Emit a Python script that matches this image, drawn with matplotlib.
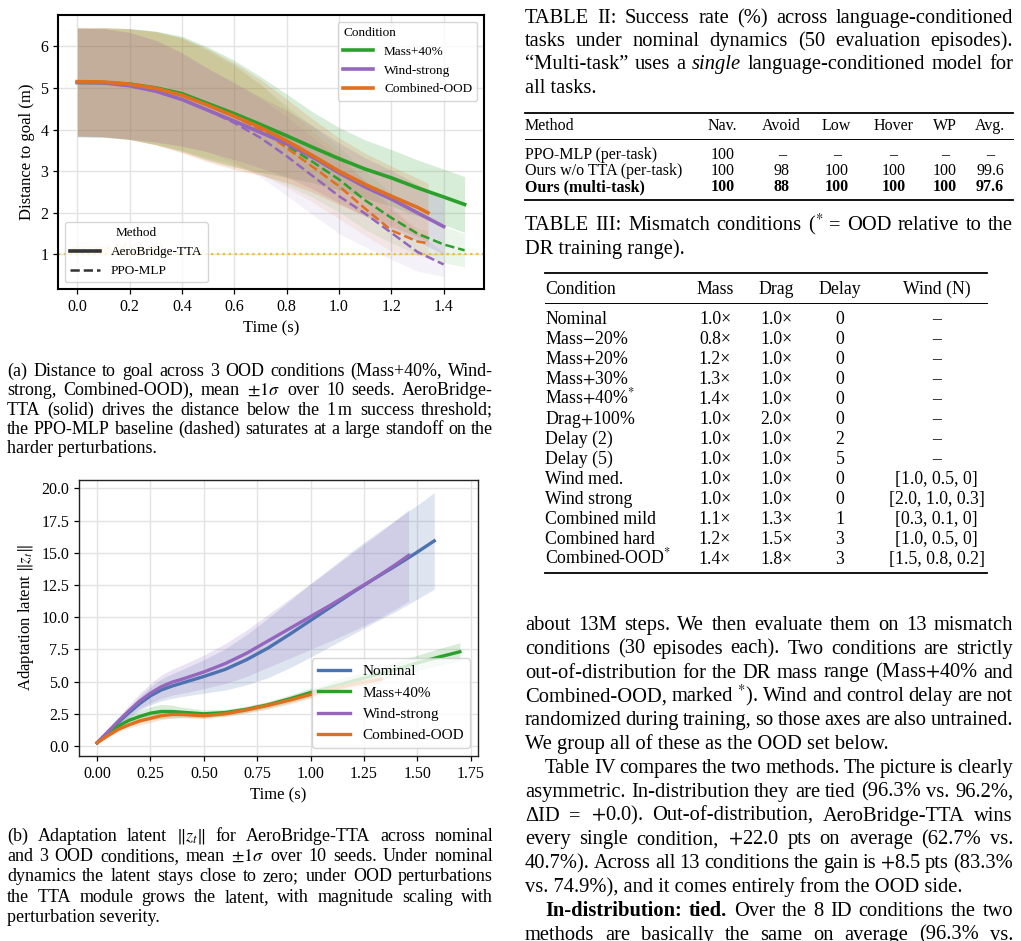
import matplotlib
matplotlib.use('Agg')
import matplotlib.pyplot as plt
import matplotlib.transforms as mtransforms
from matplotlib.lines import Line2D
from matplotlib.ticker import MultipleLocator, FormatStrFormatter
import numpy as np

plt.rcParams['font.family'] = ['Liberation Serif', 'DejaVu Serif']
plt.rcParams['mathtext.fontset'] = 'stix'

# ---------------- (a) distance to goal ----------------
cond_names = ['Mass+40%', 'Wind-strong', 'Combined-OOD']
cond_colors = ['#2ca02c', '#9467bd', '#e0701f']

t_mass = [0.0, 0.1, 0.2, 0.3, 0.4, 0.5, 0.6, 0.7, 0.8, 0.9, 1.0, 1.1, 1.2, 1.3, 1.4, 1.48]
tta_mass = [5.13, 5.125, 5.09, 5.00, 4.86, 4.62, 4.38, 4.12, 3.85, 3.57, 3.30, 3.05, 2.84, 2.60, 2.38, 2.20]
tta_mass_sd = [1.30, 1.31, 1.33, 1.36, 1.38, 1.36, 1.28, 1.15, 1.00, 0.85, 0.75, 0.70, 0.68, 0.67, 0.67, 0.67]
ppo_mass = [5.13, 5.125, 5.09, 5.00, 4.86, 4.62, 4.36, 4.00, 3.62, 3.22, 2.80, 2.30, 1.88, 1.50, 1.24, 1.10]
ppo_mass_sd = [1.30, 1.31, 1.33, 1.36, 1.36, 1.30, 1.20, 1.08, 0.95, 0.85, 0.78, 0.70, 0.60, 0.50, 0.44, 0.40]

t_wind = [0.0, 0.1, 0.2, 0.3, 0.4, 0.5, 0.6, 0.7, 0.8, 0.9, 1.0, 1.1, 1.2, 1.3, 1.4]
tta_wind = [5.13, 5.12, 5.05, 4.92, 4.72, 4.46, 4.20, 3.93, 3.66, 3.33, 2.96, 2.62, 2.33, 2.00, 1.67]
tta_wind_sd = [1.30, 1.30, 1.28, 1.22, 1.12, 1.00, 0.92, 0.85, 0.80, 0.76, 0.72, 0.70, 0.69, 0.68, 0.67]
ppo_wind = [5.13, 5.12, 5.05, 4.92, 4.72, 4.46, 4.16, 3.80, 3.36, 2.88, 2.40, 1.98, 1.52, 1.06, 0.76]
ppo_wind_sd = [1.30, 1.30, 1.28, 1.22, 1.12, 1.00, 0.96, 0.94, 0.95, 0.93, 0.90, 0.80, 0.64, 0.46, 0.29]

t_comb = [0.0, 0.1, 0.2, 0.3, 0.4, 0.5, 0.6, 0.7, 0.8, 0.9, 1.0, 1.1, 1.2, 1.3, 1.34]
tta_comb = [5.15, 5.14, 5.09, 4.99, 4.82, 4.58, 4.32, 4.05, 3.73, 3.37, 3.00, 2.68, 2.40, 2.13, 2.00]
tta_comb_sd = [1.30, 1.31, 1.33, 1.36, 1.38, 1.36, 1.28, 1.15, 1.00, 0.88, 0.80, 0.75, 0.72, 0.70, 0.70]
ppo_comb = [5.15, 5.14, 5.09, 4.99, 4.82, 4.58, 4.31, 4.00, 3.56, 3.10, 2.64, 2.10, 1.58, 1.31, 1.27]
ppo_comb_sd = [1.30, 1.31, 1.33, 1.36, 1.36, 1.30, 1.20, 1.08, 0.95, 0.85, 0.78, 0.65, 0.50, 0.32, 0.28]

success_threshold = 1.0

# ---------------- (b) adaptation latent ----------------
latent_names = ['Nominal', 'Mass+40%', 'Wind-strong', 'Combined-OOD']
latent_colors = ['#4c72b0', '#2ca02c', '#9467bd', '#e0701f']

t_nom = [0.0, 0.05, 0.1, 0.15, 0.2, 0.25, 0.3, 0.35, 0.4, 0.5, 0.6, 0.7, 0.8, 0.9, 1.0, 1.1, 1.2, 1.3, 1.4, 1.5, 1.58]
z_nom = [0.25, 1.05, 1.85, 2.6, 3.3, 3.9, 4.35, 4.65, 4.9, 5.4, 5.95, 6.7, 7.6, 8.65, 9.75, 10.85, 11.95, 13.0, 14.0, 15.05, 15.93]
z_nom_sd = [0.05, 0.15, 0.25, 0.4, 0.55, 0.7, 0.85, 0.95, 1.05, 1.3, 1.6, 1.95, 2.3, 2.6, 2.85, 3.05, 3.25, 3.4, 3.55, 3.65, 3.75]

t_massb = [0.0, 0.05, 0.1, 0.15, 0.2, 0.25, 0.3, 0.35, 0.4, 0.5, 0.6, 0.7, 0.8, 0.9, 1.0, 1.1, 1.2, 1.3, 1.4, 1.5, 1.6, 1.7]
z_mass = [0.25, 0.95, 1.55, 2.0, 2.3, 2.55, 2.68, 2.68, 2.62, 2.5, 2.6, 2.85, 3.2, 3.65, 4.15, 4.6, 5.05, 5.5, 5.95, 6.45, 6.9, 7.32]
z_mass_sd = [0.05, 0.15, 0.25, 0.35, 0.45, 0.5, 0.55, 0.5, 0.4, 0.3, 0.25, 0.25, 0.25, 0.3, 0.35, 0.4, 0.45, 0.5, 0.55, 0.6, 0.65, 0.7]

t_windb = [0.0, 0.05, 0.1, 0.15, 0.2, 0.25, 0.3, 0.35, 0.4, 0.5, 0.6, 0.7, 0.8, 0.9, 1.0, 1.1, 1.2, 1.3, 1.4, 1.46]
z_wind = [0.25, 1.1, 1.95, 2.75, 3.5, 4.1, 4.6, 4.95, 5.2, 5.75, 6.4, 7.2, 8.15, 9.1, 10.05, 11.0, 12.0, 13.0, 14.1, 14.8]
z_wind_sd = [0.05, 0.15, 0.3, 0.45, 0.6, 0.75, 0.9, 1.0, 1.1, 1.3, 1.55, 1.8, 2.05, 2.3, 2.55, 2.8, 3.05, 3.25, 3.45, 3.55]

t_combb = [0.0, 0.05, 0.1, 0.15, 0.2, 0.25, 0.3, 0.35, 0.4, 0.5, 0.6, 0.7, 0.8, 0.9, 1.0, 1.1, 1.2, 1.3, 1.33]
z_comb = [0.25, 0.8, 1.3, 1.65, 1.95, 2.15, 2.35, 2.45, 2.45, 2.35, 2.5, 2.8, 3.15, 3.55, 4.0, 4.4, 4.8, 5.1, 5.2]
z_comb_sd = [0.05, 0.12, 0.2, 0.25, 0.3, 0.32, 0.3, 0.28, 0.25, 0.22, 0.22, 0.25, 0.28, 0.3, 0.3, 0.3, 0.3, 0.3, 0.3]

# ---------------- tables ----------------
t2_header = ['Method', 'Nav.', 'Avoid', 'Low', 'Hover', 'WP', 'Avg.']
t2_methods = ['PPO-MLP (per-task)', 'Ours w/o TTA (per-task)', 'Ours (multi-task)']
t2_values = [['100', '–', '–', '–', '–', '–'],
             ['100', '98', '100', '100', '100', '99.6'],
             ['100', '88', '100', '100', '100', '97.6']]

t3_header = ['Condition', 'Mass', 'Drag', 'Delay', 'Wind (N)']
t3_conditions = ['Nominal', 'Mass$-$20%', 'Mass$+$20%', 'Mass$+$30%', 'Mass$+$40%$^{*}$',
                 'Drag$+$100%', 'Delay (2)', 'Delay (5)', 'Wind med.', 'Wind strong',
                 'Combined mild', 'Combined hard', 'Combined-OOD$^{*}$']
t3_mass = [1.0, 0.8, 1.2, 1.3, 1.4, 1.0, 1.0, 1.0, 1.0, 1.0, 1.1, 1.2, 1.4]
t3_drag = [1.0, 1.0, 1.0, 1.0, 1.0, 2.0, 1.0, 1.0, 1.0, 1.0, 1.3, 1.5, 1.8]
t3_delay = [0, 0, 0, 0, 0, 0, 2, 5, 0, 0, 1, 3, 3]
t3_wind = ['–', '–', '–', '–', '–', '–', '–', '–', '[1.0, 0.5, 0]', '[2.0, 1.0, 0.3]',
           '[0.3, 0.1, 0]', '[1.0, 0.5, 0]', '[1.5, 0.8, 0.2]']

cap_a = ['(a) Distance to goal across 3 OOD conditions (Mass+40%, Wind-',
         'strong, Combined-OOD), mean $\\pm1\\sigma$ over 10 seeds. AeroBridge-',
         'TTA (solid) drives the distance below the 1$\\,$m success threshold;',
         'the PPO-MLP baseline (dashed) saturates at a large standoff on the',
         'harder perturbations.']
cap_b = ['(b) Adaptation latent $\\|z_t\\|$ for AeroBridge-TTA across nominal',
         'and 3 OOD conditions, mean $\\pm1\\sigma$ over 10 seeds. Under nominal',
         'dynamics the latent stays close to zero; under OOD perturbations',
         'the TTA module grows the latent, with magnitude scaling with',
         'perturbation severity.']
cap_t2 = ['TABLE II: Success rate (%) across language-conditioned',
          'tasks under nominal dynamics (50 evaluation episodes).',
          '“Multi-task” uses a __single__ language-conditioned model for',
          'all tasks.']
cap_t3 = ['TABLE III: Mismatch conditions ($^{*}$ = OOD relative to the',
          'DR training range).']
body = ['about 13M steps. We then evaluate them on 13 mismatch',
        'conditions (30 episodes each). Two conditions are strictly',
        'out-of-distribution for the DR mass range (Mass$+$40% and',
        'Combined-OOD, marked $^{*}$). Wind and control delay are not',
        'randomized during training, so those axes are also untrained.',
        'We group all of these as the OOD set below.',
        'Table IV compares the two methods. The picture is clearly',
        'asymmetric. In-distribution they are tied (96.3% vs. 96.2%,',
        'ΔID = $+$0.0). Out-of-distribution, AeroBridge-TTA wins',
        'every single condition, $+$22.0 pts on average (62.7% vs.',
        '40.7%). Across all 13 conditions the gain is $+$8.5 pts (83.3%',
        'vs. 74.9%), and it comes entirely from the OOD side.',
        '**In-distribution:** **tied.** Over the 8 ID conditions the two',
        'methods are basically the same on average (96.3% vs.']
body_last = [5, 11]
body_indent = [6, 12]

# ---------------- figure ----------------
fig = plt.figure(figsize=(10.21, 9.41), dpi=100)
page = fig.add_axes([0, 0, 1, 1])
page.set_xlim(0, 1021)
page.set_ylim(941, 0)
page.axis('off')
renderer = fig.canvas.get_renderer()

BODY = 14.8


def put_line(y, line, x0, x1, size, last=False):
    if last:
        page.text(x0, y, line, fontsize=size, va='baseline', ha='left')
        return
    texts = []
    for tok in line.split(' '):
        weight, style = 'normal', 'normal'
        if tok.startswith('**') and tok.endswith('**'):
            tok, weight = tok[2:-2], 'bold'
        elif tok.startswith('__') and tok.endswith('__'):
            tok, style = tok[2:-2], 'italic'
        texts.append(page.text(x0, y, tok, fontsize=size, fontweight=weight,
                               fontstyle=style, va='baseline', ha='left'))
    widths = [t.get_window_extent(renderer=renderer).width for t in texts]
    gap = (x1 - x0 - sum(widths)) / max(len(texts) - 1, 1)
    x = x0
    for t, w in zip(texts, widths):
        t.set_x(x)
        x += w + gap


def style_axes(ax, spine_lw, spine_color):
    ax.grid(True, color='#e3e3e3', lw=1.0)
    ax.set_axisbelow(True)
    for s in ax.spines.values():
        s.set_linewidth(spine_lw)
        s.set_color(spine_color)
    ax.tick_params(labelsize=11.5, length=3.5, width=0.9)


# ----- plot (a)
ax1 = fig.add_axes([58 / 1021, 1 - 289 / 941, 426 / 1021, 274 / 941])
runs_a = [(t_mass, tta_mass, tta_mass_sd, ppo_mass, ppo_mass_sd),
          (t_wind, tta_wind, tta_wind_sd, ppo_wind, ppo_wind_sd),
          (t_comb, tta_comb, tta_comb_sd, ppo_comb, ppo_comb_sd)]
for (t, m, s, pm, ps), c in zip(runs_a, cond_colors):
    ax1.fill_between(t, np.array(m) - s, np.array(m) + s, color=c, alpha=0.18, lw=0)
    ax1.fill_between(t, np.array(pm) - ps, np.array(pm) + ps, color=c, alpha=0.09, lw=0)
for (t, m, s, pm, ps), c in zip(runs_a, cond_colors):
    ax1.plot(t, pm, color=c, lw=1.8, ls='--', zorder=3)
cond_handles = []
for (t, m, s, pm, ps), c, name in zip(runs_a, cond_colors, cond_names):
    h, = ax1.plot(t, m, color=c, lw=2.6, zorder=4, label=name)
    cond_handles.append(h)
ax1.axhline(success_threshold, color='#f2c21b', ls=':', lw=1.6, zorder=2)
ax1.text(0.03, success_threshold + 0.05, 'success ($d \\leq 1$ m)', color='#e5b820',
         fontsize=9.5, alpha=0.7,
         transform=mtransforms.blended_transform_factory(ax1.transAxes, ax1.transData))
style_axes(ax1, 1.5, 'black')
ax1.xaxis.set_major_locator(MultipleLocator(0.2))
ax1.xaxis.set_major_formatter(FormatStrFormatter('%.1f'))
ax1.yaxis.set_major_locator(MultipleLocator(1))
ax1.set_xlabel('Time (s)', fontsize=12)
ax1.set_ylabel('Distance to goal (m)', fontsize=12)
leg1 = ax1.legend(handles=cond_handles, title='Condition', loc='upper right',
                  fontsize=9.5, title_fontsize=9.5, alignment='left', handlelength=2.3)
ax1.add_artist(leg1)
meth_handles = [Line2D([], [], color='#333333', lw=2.6),
                Line2D([], [], color='#333333', lw=1.8, ls='--')]
ax1.legend(handles=meth_handles, labels=['AeroBridge-TTA', 'PPO-MLP'], title='Method',
           loc='lower left', fontsize=9.5, title_fontsize=9.5, handlelength=2.3)

# ----- plot (b)
ax2 = fig.add_axes([79 / 1021, 1 - 756 / 941, 399 / 1021, 276 / 941])
runs_b = [(t_nom, z_nom, z_nom_sd), (t_massb, z_mass, z_mass_sd),
          (t_windb, z_wind, z_wind_sd), (t_combb, z_comb, z_comb_sd)]
for (t, m, s), c in zip(runs_b, latent_colors):
    ax2.fill_between(t, np.array(m) - s, np.array(m) + s, color=c, alpha=0.18, lw=0)
for (t, m, s), c, name in zip(runs_b, latent_colors, latent_names):
    ax2.plot(t, m, color=c, lw=2.4, label=name)
style_axes(ax2, 1.0, '#222222')
ax2.xaxis.set_major_locator(MultipleLocator(0.25))
ax2.xaxis.set_major_formatter(FormatStrFormatter('%.2f'))
ax2.yaxis.set_major_locator(MultipleLocator(2.5))
ax2.yaxis.set_major_formatter(FormatStrFormatter('%.1f'))
ax2.set_xlabel('Time (s)', fontsize=12)
ax2.set_ylabel('Adaptation latent $\\|z_t\\|$', fontsize=12)
ax2.legend(loc='lower right', fontsize=11, handlelength=2.1)

# ----- captions (a), (b)
for i, line in enumerate(cap_a):
    put_line(370 + 19.3 * i + 6, line, 7, 493, 13, last=(i == len(cap_a) - 1))
for i, line in enumerate(cap_b):
    put_line(835 + 20.2 * i + 6, line, 7, 493, 13, last=(i == len(cap_b) - 1))

# ----- table II
for i, line in enumerate(cap_t2):
    put_line(16.5 + 23.2 * i + 6.5, line, 525, 1013, BODY, last=(i == len(cap_t2) - 1))
t2_cols = [525, 722.7, 781.7, 836.7, 893.3, 945, 990]
page.plot([525, 1013], [113, 113], color='black', lw=1.3)
page.plot([525, 1013], [139.3, 139.3], color='black', lw=0.7)
page.plot([525, 1013], [199.5, 199.5], color='black', lw=1.3)
for j, h in enumerate(t2_header):
    page.text(t2_cols[j], 125 + 5.3, h, fontsize=11.5, va='baseline',
              ha='left' if j == 0 else 'center')
for i, (meth, vals) in enumerate(zip(t2_methods, t2_values)):
    y = 154 + 16 * i + 5.3
    w = 'bold' if i == 2 else 'normal'
    page.text(t2_cols[0], y, meth, fontsize=11.5, va='baseline', ha='left', fontweight=w)
    for j, v in enumerate(vals):
        page.text(t2_cols[j + 1], y, v, fontsize=11.5, va='baseline', ha='center', fontweight=w)

# ----- table III
for i, line in enumerate(cap_t3):
    put_line(223.3 + 24 * i + 6.5, line, 525, 1013, BODY, last=(i == len(cap_t3) - 1))
t3_cols = [545, 715, 776.7, 840, 936.7]
page.plot([545, 987], [272.7, 272.7], color='black', lw=1.3)
page.plot([545, 987], [303.3, 303.3], color='black', lw=0.7)
page.plot([545, 987], [572.7, 572.7], color='black', lw=1.3)
for j, h in enumerate(t3_header):
    page.text(t3_cols[j], 287.7 + 6, h, fontsize=12.8, va='baseline',
              ha='left' if j == 0 else 'center')
for i in range(len(t3_conditions)):
    y = 318.3 + 19.95 * i + 6
    row = [t3_conditions[i], '%.1f×' % t3_mass[i], '%.1f×' % t3_drag[i],
           str(t3_delay[i]), t3_wind[i]]
    for j, v in enumerate(row):
        page.text(t3_cols[j], y, v, fontsize=12.8, va='baseline',
                  ha='left' if j == 0 else 'center')

# ----- body text
for i, line in enumerate(body):
    x0 = 545 if i in body_indent else 525
    put_line(623.3 + 23.85 * i + 6.5, line, x0, 1013, BODY, last=(i in body_last))

fig.savefig('out.png', dpi=100)
